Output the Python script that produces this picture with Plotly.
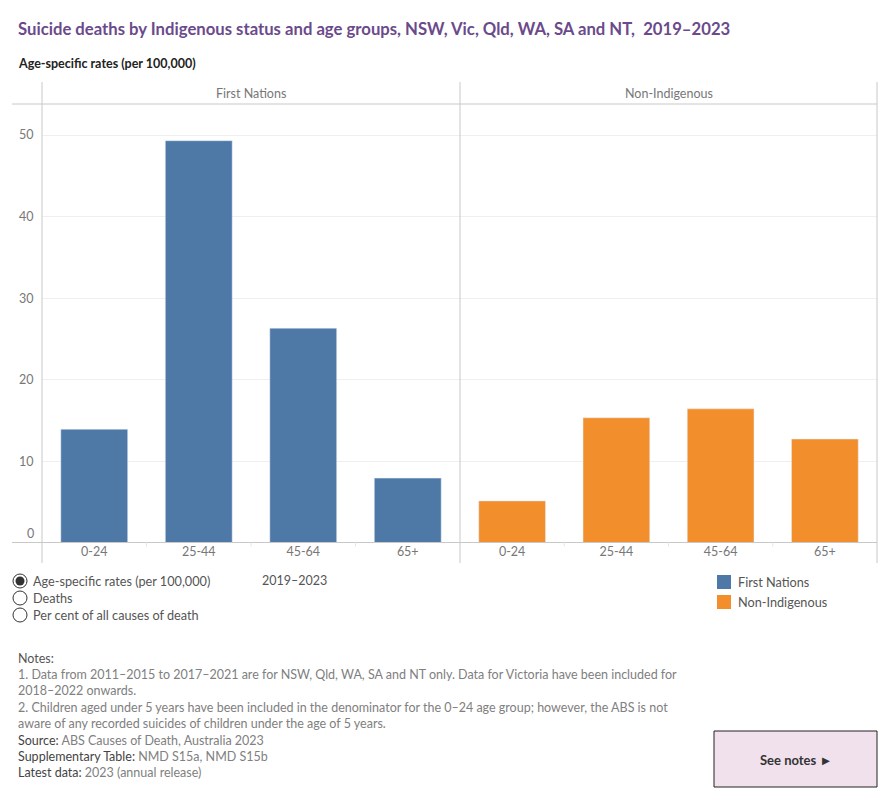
import plotly.graph_objects as go

W, H = 890, 800

age_groups = ["0-24", "25-44", "45-64", "65+"]
first_nations = [13.9, 49.3, 26.3, 7.9]
non_indigenous = [5.1, 15.3, 16.4, 12.7]
panel_titles = ["First Nations", "Non-Indigenous"]
y_ticks = [0, 10, 20, 30, 40, 50]

BLUE = "#4E79A7"
ORANGE = "#F28E2B"
TITLE = "#6B4A8B"
GRID = "#EFEFEF"
AXIS = "#C8C8C8"
FONT = "Lato"


def px(x):
    return x / W


def py(y):
    return 1 - y / H


x_left, x_mid, x_right = 42, 460, 877
y_top, y_bot = 104, 542.5

fig = go.Figure()
fig.add_trace(go.Bar(x=age_groups, y=first_nations, marker_color=BLUE, width=0.64,
                     xaxis="x", yaxis="y", name="First Nations", showlegend=False,
                     hovertemplate="%{x}: %{y}<extra>First Nations</extra>"))
fig.add_trace(go.Bar(x=age_groups, y=non_indigenous, marker_color=ORANGE, width=0.64,
                     xaxis="x2", yaxis="y", name="Non-Indigenous", showlegend=False,
                     hovertemplate="%{x}: %{y}<extra>Non-Indigenous</extra>"))

ymax = (y_bot - y_top) / 8.15
xcommon = dict(showgrid=False, zeroline=False, showline=False, ticks="",
               tickfont=dict(family=FONT, size=12.5, color="#777"), fixedrange=True,
               type="category", range=[-0.5, 3.5])
fig.update_layout(
    width=W, height=H,
    margin=dict(l=0, r=0, t=0, b=0),
    paper_bgcolor="white", plot_bgcolor="white",
    bargap=0.36,
    xaxis=dict(domain=[px(x_left), px(x_mid)], anchor="y", **xcommon),
    xaxis2=dict(domain=[px(x_mid), px(x_right)], anchor="y", **xcommon),
    yaxis=dict(domain=[py(y_bot), py(y_top)], range=[0, ymax], tickvals=y_ticks,
               showticklabels=False, showgrid=True, gridcolor=GRID, gridwidth=1,
               zeroline=False, showline=False, fixedrange=True),
    font=dict(family=FONT),
    showlegend=False,
)

shapes = []
# header and axis lines
shapes.append(dict(type="line", xref="paper", yref="paper", x0=px(12), x1=px(x_right),
                   y0=py(y_top), y1=py(y_top), line=dict(color=AXIS, width=1)))
shapes.append(dict(type="line", xref="paper", yref="paper", x0=px(12), x1=px(x_right),
                   y0=py(y_bot), y1=py(y_bot), line=dict(color=AXIS, width=1)))
for xv in (x_left, x_mid, x_right):
    shapes.append(dict(type="line", xref="paper", yref="paper", x0=px(xv), x1=px(xv),
                       y0=py(82), y1=py(563), line=dict(color=AXIS, width=1)))
# small ticks between categories
for base in (x_left, x_mid):
    step = (x_mid - x_left) / 4 if base == x_left else (x_right - x_mid) / 4
    for i in (1, 2, 3):
        xv = base + step * i
        shapes.append(dict(type="line", xref="paper", yref="paper", x0=px(xv), x1=px(xv),
                           y0=py(y_bot), y1=py(y_bot + 4), line=dict(color="#E6E6E6", width=1)))

annotations = []
# title and subtitle
annotations.append(dict(text="<b>Suicide deaths by Indigenous status and age groups, NSW, Vic, Qld, WA, SA and NT,  2019–2023</b>",
                        x=px(16), y=py(29), xref="paper", yref="paper", xanchor="left", yanchor="middle",
                        showarrow=False, font=dict(family=FONT, size=16.7, color=TITLE)))
annotations.append(dict(text="<b>Age-specific rates (per 100,000)</b>",
                        x=px(16), y=py(64), xref="paper", yref="paper", xanchor="left", yanchor="middle",
                        showarrow=False, font=dict(family=FONT, size=12.5, color="#222")))
# panel headers
for t, (a, b) in zip(panel_titles, [(x_left, x_mid), (x_mid, x_right)]):
    annotations.append(dict(text=t, x=px((a + b) / 2), y=py(94), xref="paper", yref="paper",
                            xanchor="center", yanchor="middle", showarrow=False,
                            font=dict(family=FONT, size=12.5, color="#777")))
# y tick labels
for v in y_ticks:
    yy = y_bot - v * 8.15
    if v == 0:
        yy -= 9
    annotations.append(dict(text=str(v), x=px(36), y=py(yy), xref="paper", yref="paper",
                            xanchor="right", yanchor="middle", showarrow=False,
                            font=dict(family=FONT, size=12.5, color="#777")))

# radio buttons
radio = ["Age-specific rates (per 100,000)", "Deaths", "Per cent of all causes of death"]
for i, lab in enumerate(radio):
    cy = 581 + 17 * i
    shapes.append(dict(type="circle", xref="paper", yref="paper", x0=px(13), x1=px(27),
                       y0=py(cy - 7), y1=py(cy + 7), line=dict(color="#333", width=1),
                       fillcolor="white"))
    if i == 0:
        shapes.append(dict(type="circle", xref="paper", yref="paper", x0=px(15.5), x1=px(24.5),
                           y0=py(cy - 4.5), y1=py(cy + 4.5), line=dict(width=0), fillcolor="#333"))
    annotations.append(dict(text=lab, x=px(31), y=py(cy), xref="paper", yref="paper",
                            xanchor="left", yanchor="middle", showarrow=False,
                            font=dict(family=FONT, size=12.7, color="#555")))
annotations.append(dict(text="2019–2023", x=px(260), y=py(580), xref="paper", yref="paper",
                        xanchor="left", yanchor="middle", showarrow=False,
                        font=dict(family=FONT, size=12.5, color="#555")))

# legend
for i, (lab, col) in enumerate(zip(panel_titles, [BLUE, ORANGE])):
    cy = 582 + 20 * i
    shapes.append(dict(type="rect", xref="paper", yref="paper", x0=px(717), x1=px(731),
                       y0=py(cy - 7), y1=py(cy + 7), line=dict(width=0), fillcolor=col))
    annotations.append(dict(text=lab, x=px(736), y=py(cy), xref="paper", yref="paper",
                            xanchor="left", yanchor="middle", showarrow=False,
                            font=dict(family=FONT, size=12.7, color="#555")))

# notes
notes = [
    "Notes:",
    "1. Data from 2011–2015 to 2017–2021 are for NSW, Qld, WA, SA and NT only. Data for Victoria have been included for",
    "2018–2022 onwards.",
    "2. Children aged under 5 years have been included in the denominator for the 0–24 age group; however, the ABS is not",
    "aware of any recorded suicides of children under the age of 5 years.",
    "<span style='color:#444'>Source:</span> ABS Causes of Death, Australia 2023",
    "<span style='color:#444'>Supplementary Table:</span> NMD S15a, NMD S15b",
    "<span style='color:#444'>Latest data:</span> 2023 (annual release)",
]
for i, t in enumerate(notes):
    col = "#555" if i == 0 else "#808080"
    annotations.append(dict(text=t, x=px(16), y=py(658 + 16.4 * i), xref="paper", yref="paper",
                            xanchor="left", yanchor="middle", showarrow=False,
                            font=dict(family=FONT, size=12.5, color=col)))

# see notes button
shapes.append(dict(type="rect", xref="paper", yref="paper", x0=px(714), x1=px(877),
                   y0=py(731), y1=py(787), line=dict(color="#222", width=1), fillcolor="#F0E1EC"))
annotations.append(dict(text="<b>See notes ►</b>", x=px(795.5), y=py(760), xref="paper", yref="paper",
                        xanchor="center", yanchor="middle", showarrow=False,
                        font=dict(family=FONT, size=13, color="#333")))

fig.update_layout(shapes=shapes, annotations=annotations)
fig.write_html("out.html")
